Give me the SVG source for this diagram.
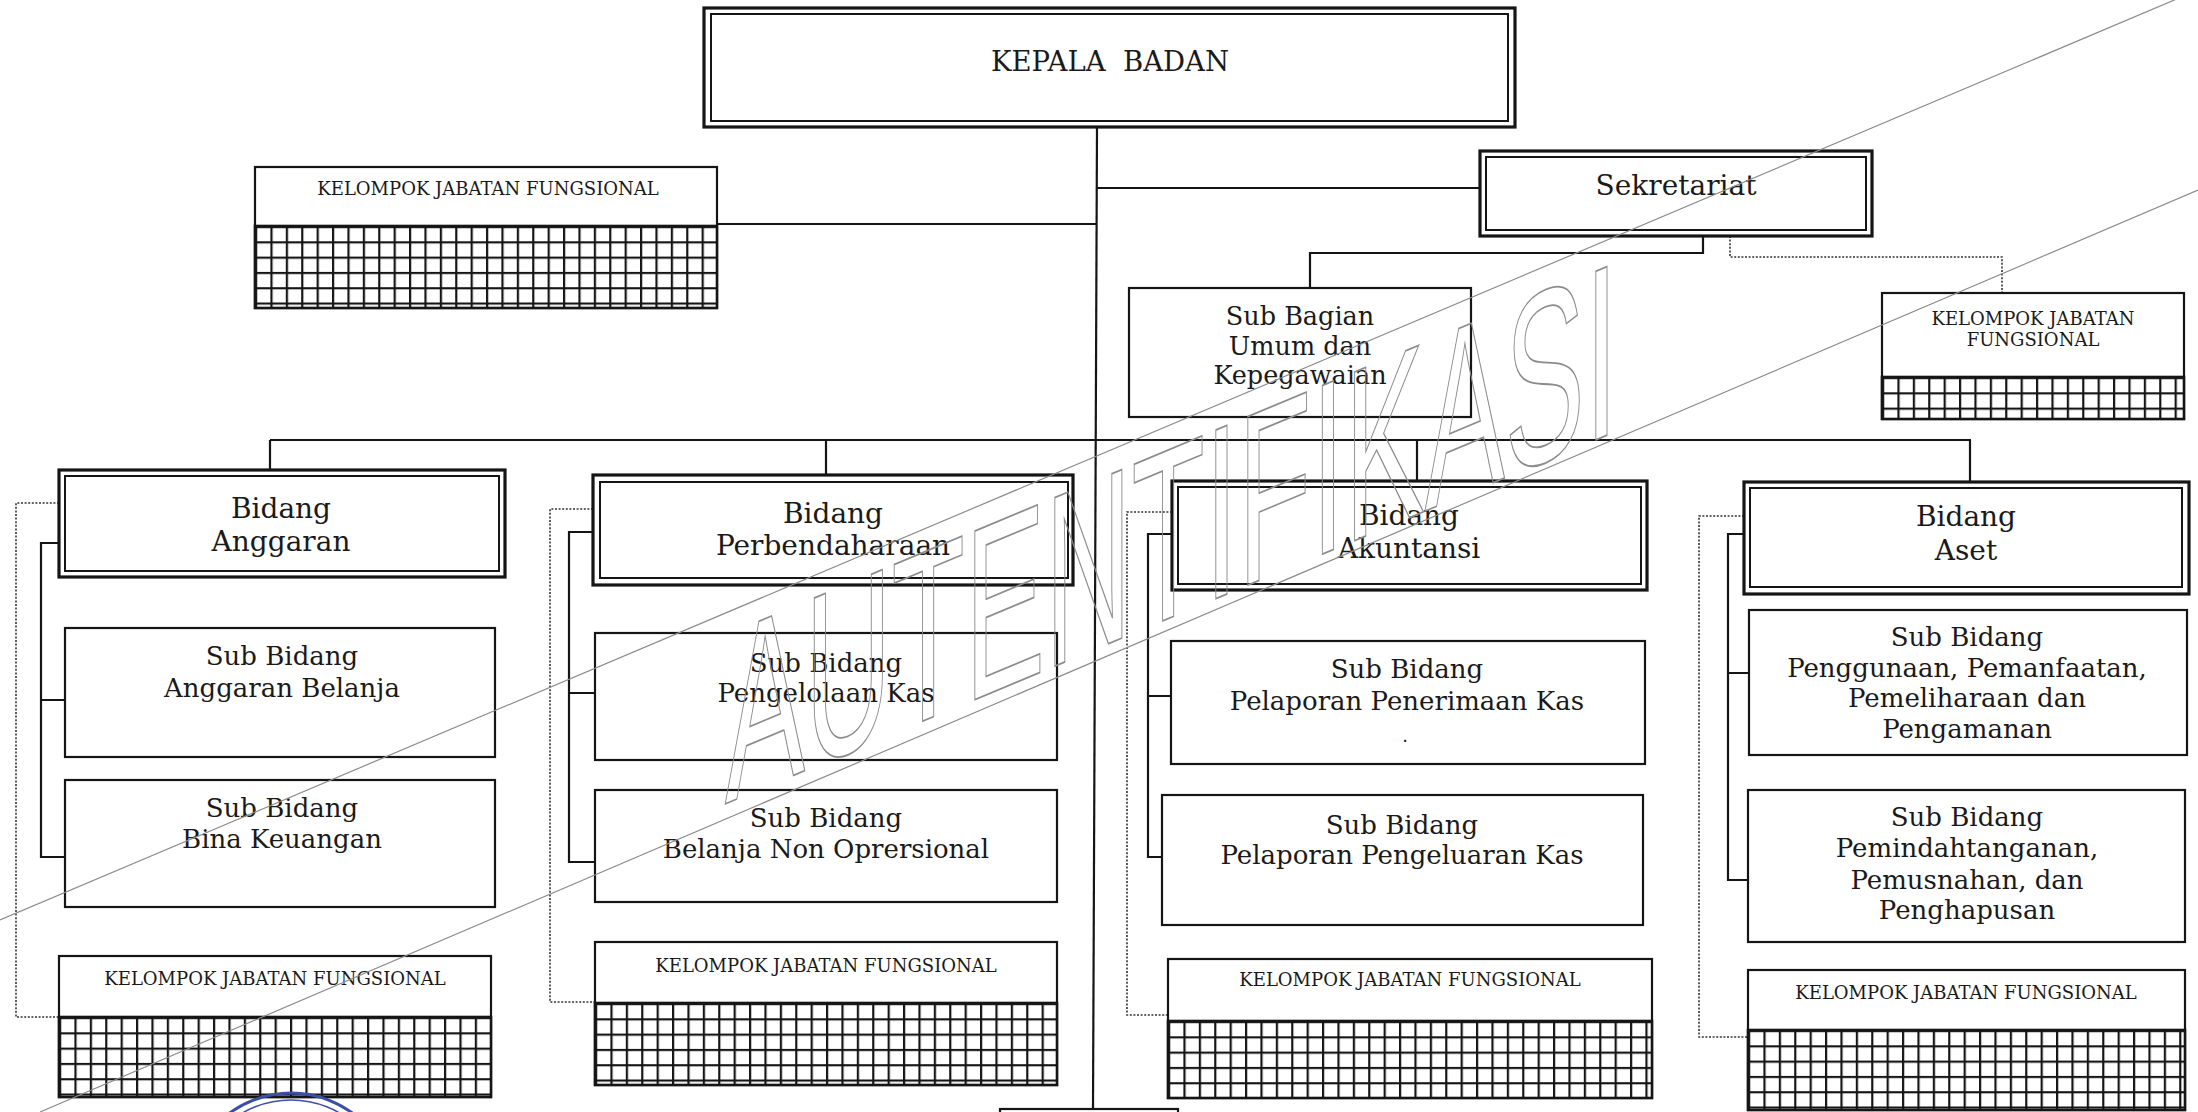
<svg xmlns="http://www.w3.org/2000/svg" width="2198" height="1112" viewBox="0 0 2198 1112">
<style>
.bx{fill:#fff;stroke:#151515;stroke-width:2.2}
.ob{fill:#fff;stroke:#151515;stroke-width:3.2}
.ib{fill:none;stroke:#151515;stroke-width:2}
.gr{fill:url(#grid);stroke:#151515;stroke-width:2.6}
.ln{fill:none;stroke:#151515;stroke-width:2.2}
.dt{fill:none;stroke:#333;stroke-width:1.6;stroke-dasharray:2 1.6}
.t{font-family:"DejaVu Serif","Liberation Serif",serif;fill:#1a1a1a;text-anchor:middle}
.tb{font-size:28px}
.ts{font-size:26px}
.tk{font-size:18px}
.wm{fill:none;stroke:#8c8c8c;stroke-width:1.2}
</style>
<defs>
<pattern id="grid" width="15.4" height="15.3" patternUnits="userSpaceOnUse">
<rect width="15.4" height="15.3" fill="#fff"/>
<path d="M0 1.1H15.4M1.1 0V15.3" stroke="#151515" stroke-width="2.2" fill="none"/>
</pattern>
</defs>
<rect width="2198" height="1112" fill="#fff"/>

<g id="connectors">
<path class="ln" d="M1097 127L1093 1109"/>
<path class="ln" d="M717 224H1096"/>
<path class="ln" d="M1096 188H1480"/>
<path class="ln" d="M1703 236V253H1310V288"/>
<path class="dt" d="M1730 236V257H2002V293"/>
<path class="ln" d="M270 440H1971"/>
<path class="ln" d="M270 440V470M826 440V475M1417 440V481M1970 440V482"/>
<path class="ln" d="M59 543H41V857H65M41 700H65"/>
<path class="dt" d="M59 503H16V1017H59"/>
<path class="ln" d="M593 532H569V862H595M569 693H595"/>
<path class="dt" d="M593 509H550V1002H595"/>
<path class="ln" d="M1172 534H1148V857H1162M1148 696H1171"/>
<path class="dt" d="M1172 512H1127V1015H1168"/>
<path class="ln" d="M1744 534H1728V880H1748M1728 673H1749"/>
<path class="dt" d="M1744 516H1699V1037H1748"/>
</g>

<g id="kepala-badan">
<rect class="ob" x="704" y="8" width="811" height="119"/>
<rect class="ib" x="711" y="14" width="797" height="107"/>
<text class="t" x="1110" y="71" font-size="27.5">KEPALA&#160; BADAN</text>
</g>

<g id="kjf-top">
<rect class="bx" x="255" y="167" width="462" height="141"/>
<g transform="translate(255 226)"><rect class="gr" width="462" height="82"/></g>
<text class="t tk" x="488" y="195">KELOMPOK JABATAN FUNGSIONAL</text>
</g>

<g id="sekretariat">
<rect class="ob" x="1480" y="151" width="392" height="85"/>
<rect class="ib" x="1486" y="157" width="380" height="73"/>
<text class="t tb" x="1676" y="195">Sekretariat</text>
</g>

<g id="sub-bagian-umum">
<rect class="bx" x="1129" y="288" width="342" height="129"/>
<text class="t" font-size="25.5" x="1300" y="325">Sub Bagian</text>
<text class="t" font-size="25.5" x="1300" y="355">Umum dan</text>
<text class="t" font-size="25.5" x="1300" y="384">Kepegawaian</text>
</g>

<g id="kjf-sekretariat">
<rect class="bx" x="1882" y="293" width="302" height="126"/>
<g transform="translate(1882 377)"><rect class="gr" width="302" height="42"/></g>
<text class="t tk" x="2033" y="325">KELOMPOK JABATAN</text>
<text class="t tk" x="2033" y="346">FUNGSIONAL</text>
</g>

<g id="bidang-anggaran">
<rect class="ob" x="59" y="470" width="446" height="107"/>
<rect class="ib" x="65" y="476" width="434" height="95"/>
<text class="t tb" x="281" y="518">Bidang</text>
<text class="t tb" x="281" y="551">Anggaran</text>
</g>
<g id="sub-anggaran-belanja">
<rect class="bx" x="65" y="628" width="430" height="129"/>
<text class="t ts" x="282" y="665">Sub Bidang</text>
<text class="t ts" x="282" y="697">Anggaran Belanja</text>
</g>
<g id="sub-bina-keuangan">
<rect class="bx" x="65" y="780" width="430" height="127"/>
<text class="t ts" x="282" y="817">Sub Bidang</text>
<text class="t ts" x="282" y="848">Bina Keuangan</text>
</g>
<g id="kjf-anggaran">
<rect class="bx" x="59" y="956" width="432" height="141"/>
<g transform="translate(59 1017)"><rect class="gr" width="432" height="80"/></g>
<text class="t tk" x="275" y="985">KELOMPOK JABATAN FUNGSIONAL</text>
</g>

<g id="bidang-perbendaharaan">
<rect class="ob" x="593" y="475" width="480" height="110"/>
<rect class="ib" x="600" y="482" width="468" height="96"/>
<text class="t tb" x="833" y="523">Bidang</text>
<text class="t tb" x="833" y="555">Perbendaharaan</text>
</g>
<g id="sub-pengelolaan-kas">
<rect class="bx" x="595" y="633" width="462" height="127"/>
<text class="t ts" x="826" y="672">Sub Bidang</text>
<text class="t ts" x="826" y="702">Pengelolaan Kas</text>
</g>
<g id="sub-belanja-non">
<rect class="bx" x="595" y="790" width="462" height="112"/>
<text class="t ts" x="826" y="827">Sub Bidang</text>
<text class="t ts" x="826" y="858">Belanja Non Oprersional</text>
</g>
<g id="kjf-perbendaharaan">
<rect class="bx" x="595" y="942" width="462" height="143"/>
<g transform="translate(595 1003)"><rect class="gr" width="462" height="82"/></g>
<text class="t tk" x="826" y="972">KELOMPOK JABATAN FUNGSIONAL</text>
</g>

<g id="bidang-akuntansi">
<rect class="ob" x="1172" y="481" width="475" height="109"/>
<rect class="ib" x="1178" y="487" width="463" height="97"/>
<text class="t tb" x="1409" y="525">Bidang</text>
<text class="t tb" x="1409" y="558">Akuntansi</text>
</g>
<g id="sub-penerimaan-kas">
<rect class="bx" x="1171" y="641" width="474" height="123"/>
<text class="t ts" x="1407" y="678">Sub Bidang</text>
<text class="t ts" x="1407" y="710">Pelaporan Penerimaan Kas</text>
<text class="t" font-size="18" x="1405" y="742">.</text>
</g>
<g id="sub-pengeluaran-kas">
<rect class="bx" x="1162" y="795" width="481" height="130"/>
<text class="t ts" x="1402" y="834">Sub Bidang</text>
<text class="t ts" x="1402" y="864">Pelaporan Pengeluaran Kas</text>
</g>
<g id="kjf-akuntansi">
<rect class="bx" x="1168" y="959" width="484" height="139"/>
<g transform="translate(1168 1021)"><rect class="gr" width="484" height="77"/></g>
<text class="t tk" x="1410" y="986">KELOMPOK JABATAN FUNGSIONAL</text>
</g>

<g id="bidang-aset">
<rect class="ob" x="1744" y="482" width="445" height="112"/>
<rect class="ib" x="1750" y="488" width="432" height="99"/>
<text class="t tb" x="1966" y="526">Bidang</text>
<text class="t tb" x="1966" y="560">Aset</text>
</g>
<g id="sub-penggunaan">
<rect class="bx" x="1749" y="610" width="438" height="145"/>
<text class="t ts" x="1967" y="646">Sub Bidang</text>
<text class="t ts" x="1967" y="677">Penggunaan, Pemanfaatan,</text>
<text class="t ts" x="1967" y="707">Pemeliharaan dan</text>
<text class="t ts" x="1967" y="738">Pengamanan</text>
</g>
<g id="sub-pemindahtanganan">
<rect class="bx" x="1748" y="790" width="437" height="152"/>
<text class="t ts" x="1967" y="826">Sub Bidang</text>
<text class="t ts" x="1967" y="857">Pemindahtanganan,</text>
<text class="t ts" x="1967" y="889">Pemusnahan, dan</text>
<text class="t ts" x="1967" y="919">Penghapusan</text>
</g>
<g id="kjf-aset">
<rect class="bx" x="1748" y="970" width="437" height="140"/>
<g transform="translate(1748 1030)"><rect class="gr" width="437" height="80"/></g>
<text class="t tk" x="1966" y="999">KELOMPOK JABATAN FUNGSIONAL</text>
</g>

<g id="bottom-box">
<rect class="bx" x="1000" y="1109" width="178" height="20"/>
</g>

<g id="watermark">
<path class="wm" d="M2198 -10L0 920M2198 190L40 1112"/>
<text transform="translate(725 804) skewY(-22.7)" x="0" y="0" font-family="'Liberation Sans Narrow','Liberation Sans',sans-serif" font-size="245" textLength="893" lengthAdjust="spacingAndGlyphs" fill="none" stroke="#8c8c8c" stroke-width="1.8">AUTENTIFIKASI</text>
<circle cx="291" cy="1197" r="104" fill="none" stroke="#3b4fa8" stroke-width="3"/>
<circle cx="291" cy="1197" r="97" fill="none" stroke="#3b4fa8" stroke-width="1.5"/>
</g>
</svg>
